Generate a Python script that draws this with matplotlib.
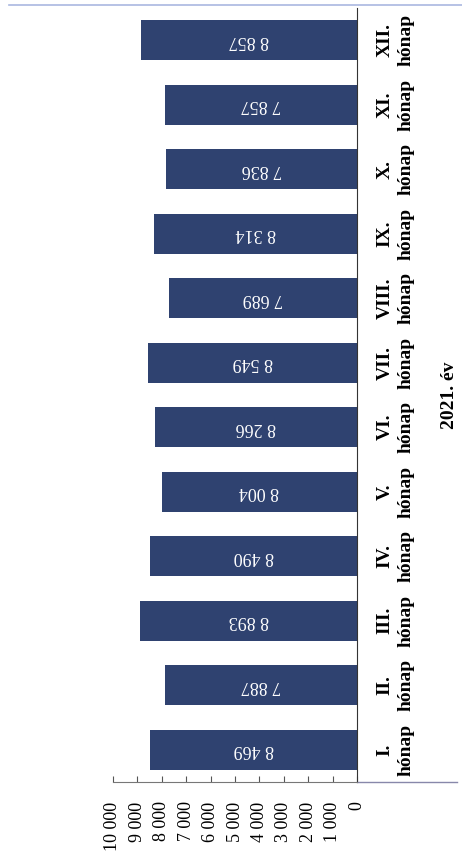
import numpy as np
import matplotlib
matplotlib.use("Agg")
from matplotlib import pyplot as plt
from matplotlib.lines import Line2D

months = ["I.", "II.", "III.", "IV.", "V.", "VI.", "VII.", "VIII.", "IX.", "X.", "XI.", "XII."]
values = [8469, 7887, 8893, 8490, 8004, 8266, 8549, 7689, 8314, 7836, 7857, 8857]
value_ticks = [0, 1000, 2000, 3000, 4000, 5000, 6000, 7000, 8000, 9000, 10000]
year_label = "2021. év"

bar_color = "#2F4270"
serif = ["Liberation Serif", "DejaVu Serif"]


def fmt(v):
    return f"{v:,}".replace(",", " ")


fig = plt.figure(figsize=(4.62, 8.59), dpi=100)
ax = fig.add_axes([113 / 462, 1 - 782 / 859, 244 / 462, 774 / 859])

pos = np.arange(len(months))
ax.barh(pos, values, height=0.62, color=bar_color, zorder=2)

for p, v in zip(pos, values):
    ax.text(v / 2, p, fmt(v), rotation=180, ha="center", va="center",
            color="white", fontsize=13, family=serif)

ax.set_xlim(10000, 0)
ax.set_ylim(-0.5, len(months) - 0.5)

ax.set_xticks(value_ticks)
ax.set_xticklabels([fmt(t) for t in value_ticks], rotation=90,
                   fontsize=13, family=serif)
ax.tick_params(axis="x", direction="in", length=4, pad=14, color="#555555")

ax.yaxis.tick_right()
ax.set_yticks(pos)
ax.set_yticklabels([m + "\nhónap" for m in months], rotation=90,
                   fontsize=14, fontweight="bold", family=serif,
                   ha="left", va="center", multialignment="center",
                   linespacing=1.35)
ax.tick_params(axis="y", length=0, pad=14)

ax.yaxis.set_label_position("right")
ax.set_ylabel(year_label, rotation=90, fontsize=14, fontweight="bold",
              family=serif, ha="center", va="center")
ax.yaxis.set_label_coords((449 - 113) / 244, 0.5)

for s in ["top", "left"]:
    ax.spines[s].set_visible(False)
ax.spines["right"].set_color("#333333")
ax.spines["bottom"].set_color("#777777")

# bottom axis line runs on under the month labels
ax.plot([1.0, (457 - 113) / 244], [0, 0], transform=ax.transAxes,
        color="#8888aa", lw=1, clip_on=False)

# faint page border at the top of the scan
fig.add_artist(Line2D([0.02, 1.0], [1 - 5 / 859, 1 - 5 / 859],
                      color="#aab8e0", lw=1.2))

fig.savefig("out.png", dpi=100)
